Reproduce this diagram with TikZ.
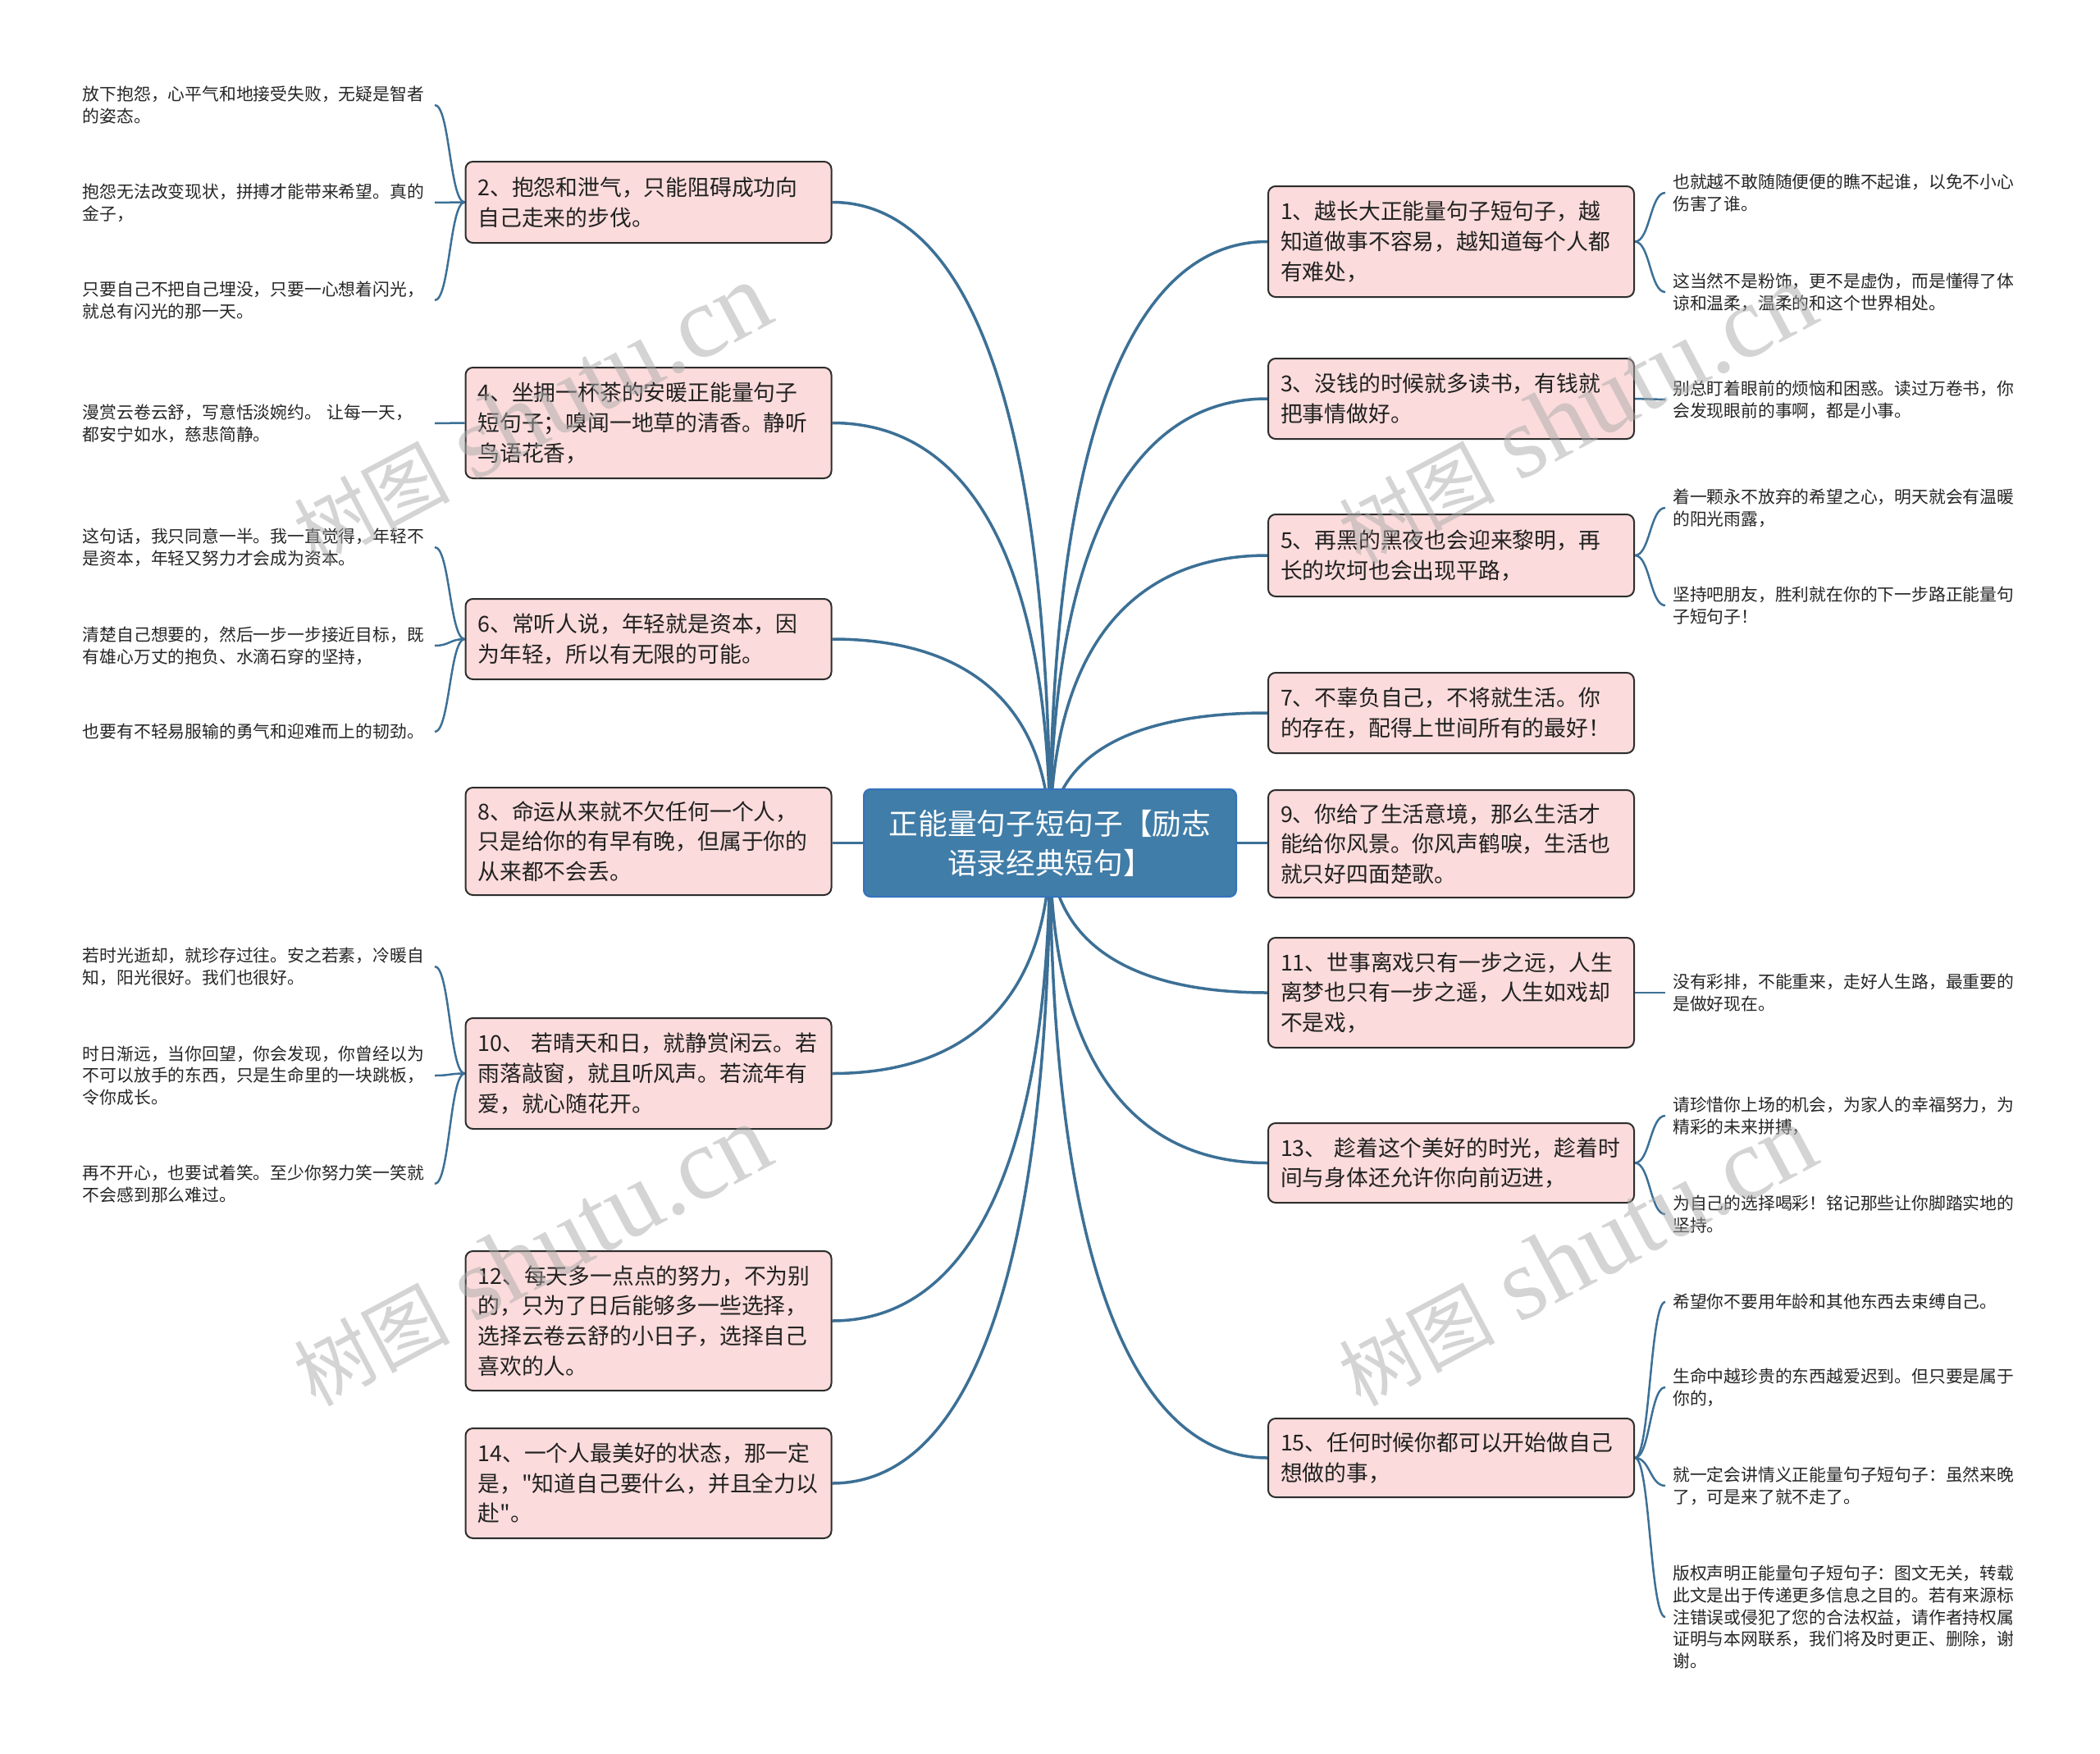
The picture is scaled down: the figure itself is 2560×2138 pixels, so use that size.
\documentclass[tikz,border=0pt]{standalone}
\usepackage{fontspec}
\setmainfont{Noto Sans CJK SC}[Ligatures=TeXOff]
\newfontfamily\wmserif{Liberation Serif}
\usetikzlibrary{calc}
\definecolor{linec}{RGB}{60,112,150}
\definecolor{boxfill}{RGB}{251,219,219}
\definecolor{boxdraw}{RGB}{45,45,45}
\definecolor{rootfill}{RGB}{64,125,168}
\definecolor{rootdraw}{RGB}{52,114,190}
\definecolor{wmgray}{RGB}{170,170,170}
\pgfdeclarelayer{bg}
\pgfsetlayers{bg,main}
\newcommand\brconn[2]{\draw[bline] let \p1=(#1), \p2=(#2) in (\p1) .. controls (\x1,{\y1+0.65*(\y2-\y1)}) and ({\x1+0.35*(\x2-\x1)},\y2) .. (\p2);}
\newcommand\lfconn[2]{\draw[lline] let \p1=(#1), \p2=(#2) in (\p1) .. controls ({\x1+0.5*(\x2-\x1)},\y1) and ({\x1+0.5*(\x2-\x1)},\y2) .. (\p2);}
\newcommand\wmtext{{\fontsize{95}{95}\selectfont 树图}\hspace{28pt}{\wmserif\fontsize{125}{125}\selectfont shutu.cn}}
\tikzset{
  branch/.style={draw=boxdraw, line width=2pt, fill=boxfill, rounded corners=9pt,
    text width=416pt, inner xsep=15pt, inner ysep=4pt, align=left,
    font=\fontsize{26.8}{36.7}\selectfont, text=black!87},
  leafL/.style={anchor=east, text width=420pt, inner xsep=9pt, inner ysep=0pt, align=left,
    font=\fontsize{20.8}{26.7}\selectfont, text=black!85},
  leafR/.style={leafL, anchor=west},
  rootbox/.style={draw=rootdraw, line width=2pt, fill=rootfill, rounded corners=8pt,
    minimum width=454pt, minimum height=131pt, align=center, text=white,
    font=\fontsize{35.7}{48}\selectfont},
  bline/.style={draw=linec, line width=3.5pt},
  lline/.style={draw=linec, line width=2.5pt},
  wm/.style={text=wmgray, opacity=0.5, rotate=28, inner sep=0pt}
}
\begin{document}
\begin{tikzpicture}[x=1pt,y=-1pt]
\useasboundingbox (0,0) rectangle (2560,2138);
% root
\node[rootbox] (root) at (1280,1027.5) {正能量句子短句子【励志\\语录经典短句】};
% left branches
\node[branch, minimum height=99pt] (b2) at (790.5,246.5) {2、抱怨和泄气，只能阻碍成功向\\自己走来的步伐。};
\node[branch, minimum height=135pt] (b4) at (790.5,515.5) {4、坐拥一杯茶的安暖正能量句子\\短句子；嗅闻一地草的清香。静听\\鸟语花香，};
\node[branch, minimum height=98pt] (b6) at (790.5,779) {6、常听人说，年轻就是资本，因\\为年轻，所以有无限的可能。};
\node[branch, minimum height=131pt] (b8) at (790.5,1025.5) {8、命运从来就不欠任何一个人，\\只是给你的有早有晚，但属于你的\\从来都不会丢。};
\node[branch, minimum height=135pt] (b10) at (790.5,1308.5) {10、~若晴天和日，就静赏闲云。若\\雨落敲窗，就且听风声。若流年有\\爱，就心随花开。};
\node[branch, minimum height=170pt] (b12) at (790.5,1610) {12、每天多一点点的努力，不为别\\的，只为了日后能够多一些选择，\\选择云卷云舒的小日子，选择自己\\喜欢的人。};
\node[branch, minimum height=134pt] (b14) at (790.5,1808) {14、一个人最美好的状态，那一定\\是，"知道自己要什么，并且全力以\\赴"。};
% right branches
\node[branch, minimum height=135pt] (b1) at (1769,294.5) {1、越长大正能量句子短句子，越\\知道做事不容易，越知道每个人都\\有难处，};
\node[branch, minimum height=98pt] (b3) at (1769,486) {3、没钱的时候就多读书，有钱就\\把事情做好。};
\node[branch, minimum height=100pt] (b5) at (1769,677) {5、再黑的黑夜也会迎来黎明，再\\长的坎坷也会出现平路，};
\node[branch, minimum height=98pt] (b7) at (1769,869) {7、不辜负自己，不将就生活。你\\的存在，配得上世间所有的最好！};
\node[branch, minimum height=131pt] (b9) at (1769,1028.5) {9、你给了生活意境，那么生活才\\能给你风景。你风声鹤唳，生活也\\就只好四面楚歌。};
\node[branch, minimum height=134pt] (b11) at (1769,1210) {11、世事离戏只有一步之远，人生\\离梦也只有一步之遥，人生如戏却\\不是戏，};
\node[branch, minimum height=97pt] (b13) at (1769,1417.5) {13、~趁着这个美好的时光，趁着时\\间与身体还允许你向前迈进，};
\node[branch, minimum height=96pt] (b15) at (1769,1777) {15、任何时候你都可以开始做自己\\想做的事，};
% left leaves
\node[leafL] (l2a) at (530,128) {放下抱怨，心平气和地接受失败，无疑是智者\\的姿态。};
\node[leafL] (l2b) at (530,247) {抱怨无法改变现状，拼搏才能带来希望。真的\\金子，};
\node[leafL] (l2c) at (530,366) {只要自己不把自己埋没，只要一心想着闪光，\\就总有闪光的那一天。};
\node[leafL] (l4a) at (530,516) {漫赏云卷云舒，写意恬淡婉约。 让每一天，\\都安宁如水，慈悲简静。};
\node[leafL] (l6a) at (530,667) {这句话，我只同意一半。我一直觉得，年轻不\\是资本，年轻又努力才会成为资本。};
\node[leafL] (l6b) at (530,787) {清楚自己想要的，然后一步一步接近目标，既\\有雄心万丈的抱负、水滴石穿的坚持，};
\node[leafL] (l6c) at (530,892) {也要有不轻易服输的勇气和迎难而上的韧劲。};
\node[leafL] (l10a) at (530,1178) {若时光逝却，就珍存过往。安之若素，冷暖自\\知，阳光很好。我们也很好。};
\node[leafL] (l10b) at (530,1311) {时日渐远，当你回望，你会发现，你曾经以为\\不可以放手的东西，只是生命里的一块跳板，\\令你成长。};
\node[leafL] (l10c) at (530,1443) {再不开心，也要试着笑。至少你努力笑一笑就\\不会感到那么难过。};
% right leaves
\node[leafR] (r1a) at (2030,235) {也就越不敢随随便便的瞧不起谁，以免不小心\\伤害了谁。};
\node[leafR] (r1b) at (2030,356) {这当然不是粉饰，更不是虚伪，而是懂得了体\\谅和温柔，温柔的和这个世界相处。};
\node[leafR] (r3a) at (2030,487) {别总盯着眼前的烦恼和困惑。读过万卷书，你\\会发现眼前的事啊，都是小事。};
\node[leafR] (r5a) at (2030,619) {着一颗永不放弃的希望之心，明天就会有温暖\\的阳光雨露，};
\node[leafR] (r5b) at (2030,738) {坚持吧朋友，胜利就在你的下一步路正能量句\\子短句子！};
\node[leafR] (r11a) at (2030,1210) {没有彩排，不能重来，走好人生路，最重要的\\是做好现在。};
\node[leafR] (r13a) at (2030,1360) {请珍惜你上场的机会，为家人的幸福努力，为\\精彩的未来拼搏，};
\node[leafR] (r13b) at (2030,1480) {为自己的选择喝彩！铭记那些让你脚踏实地的\\坚持。};
\node[leafR] (r15a) at (2030,1587) {希望你不要用年龄和其他东西去束缚自己。};
\node[leafR] (r15b) at (2030,1691) {生命中越珍贵的东西越爱迟到。但只要是属于\\你的，};
\node[leafR] (r15c) at (2030,1811) {就一定会讲情义正能量句子短句子：虽然来晚\\了，可是来了就不走了。};
\node[leafR] (r15d) at (2030,1971) {版权声明正能量句子短句子：图文无关，转载\\此文是出于传递更多信息之目的。若有来源标\\注错误或侵犯了您的合法权益，请作者持权属\\证明与本网联系，我们将及时更正、删除，谢\\谢。};
% watermarks
\node[wm] (wm1) at (648,505) {\wmtext};
\node[wm] (wm2) at (1922,505) {\wmtext};
\node[wm] (wm3) at (648,1531) {\wmtext};
\node[wm] (wm4) at (1922,1531) {\wmtext};
\begin{pgfonlayer}{bg}
\fill[white] (0,0) rectangle (2560,2138);
% root to branches
\brconn{root.center}{b2.east}
\brconn{root.center}{b4.east}
\brconn{root.center}{b6.east}
\draw[bline] (root.center) -- (root.center -| b8.east);
\brconn{root.center}{b10.east}
\brconn{root.center}{b12.east}
\brconn{root.center}{b14.east}
\brconn{root.center}{b1.west}
\brconn{root.center}{b3.west}
\brconn{root.center}{b5.west}
\brconn{root.center}{b7.west}
\draw[bline] (root.center) -- (root.center -| b9.west);
\brconn{root.center}{b11.west}
\brconn{root.center}{b13.west}
\brconn{root.center}{b15.west}
% branches to leaves
\lfconn{b2.west}{l2a.east}
\lfconn{b2.west}{l2b.east}
\lfconn{b2.west}{l2c.east}
\lfconn{b4.west}{l4a.east}
\lfconn{b6.west}{l6a.east}
\lfconn{b6.west}{l6b.east}
\lfconn{b6.west}{l6c.east}
\lfconn{b10.west}{l10a.east}
\lfconn{b10.west}{l10b.east}
\lfconn{b10.west}{l10c.east}
\lfconn{b1.east}{r1a.west}
\lfconn{b1.east}{r1b.west}
\lfconn{b3.east}{r3a.west}
\lfconn{b5.east}{r5a.west}
\lfconn{b5.east}{r5b.west}
\lfconn{b11.east}{r11a.west}
\lfconn{b13.east}{r13a.west}
\lfconn{b13.east}{r13b.west}
\lfconn{b15.east}{r15a.west}
\lfconn{b15.east}{r15b.west}
\lfconn{b15.east}{r15c.west}
\lfconn{b15.east}{r15d.west}
\end{pgfonlayer}
\end{tikzpicture}
\end{document}
